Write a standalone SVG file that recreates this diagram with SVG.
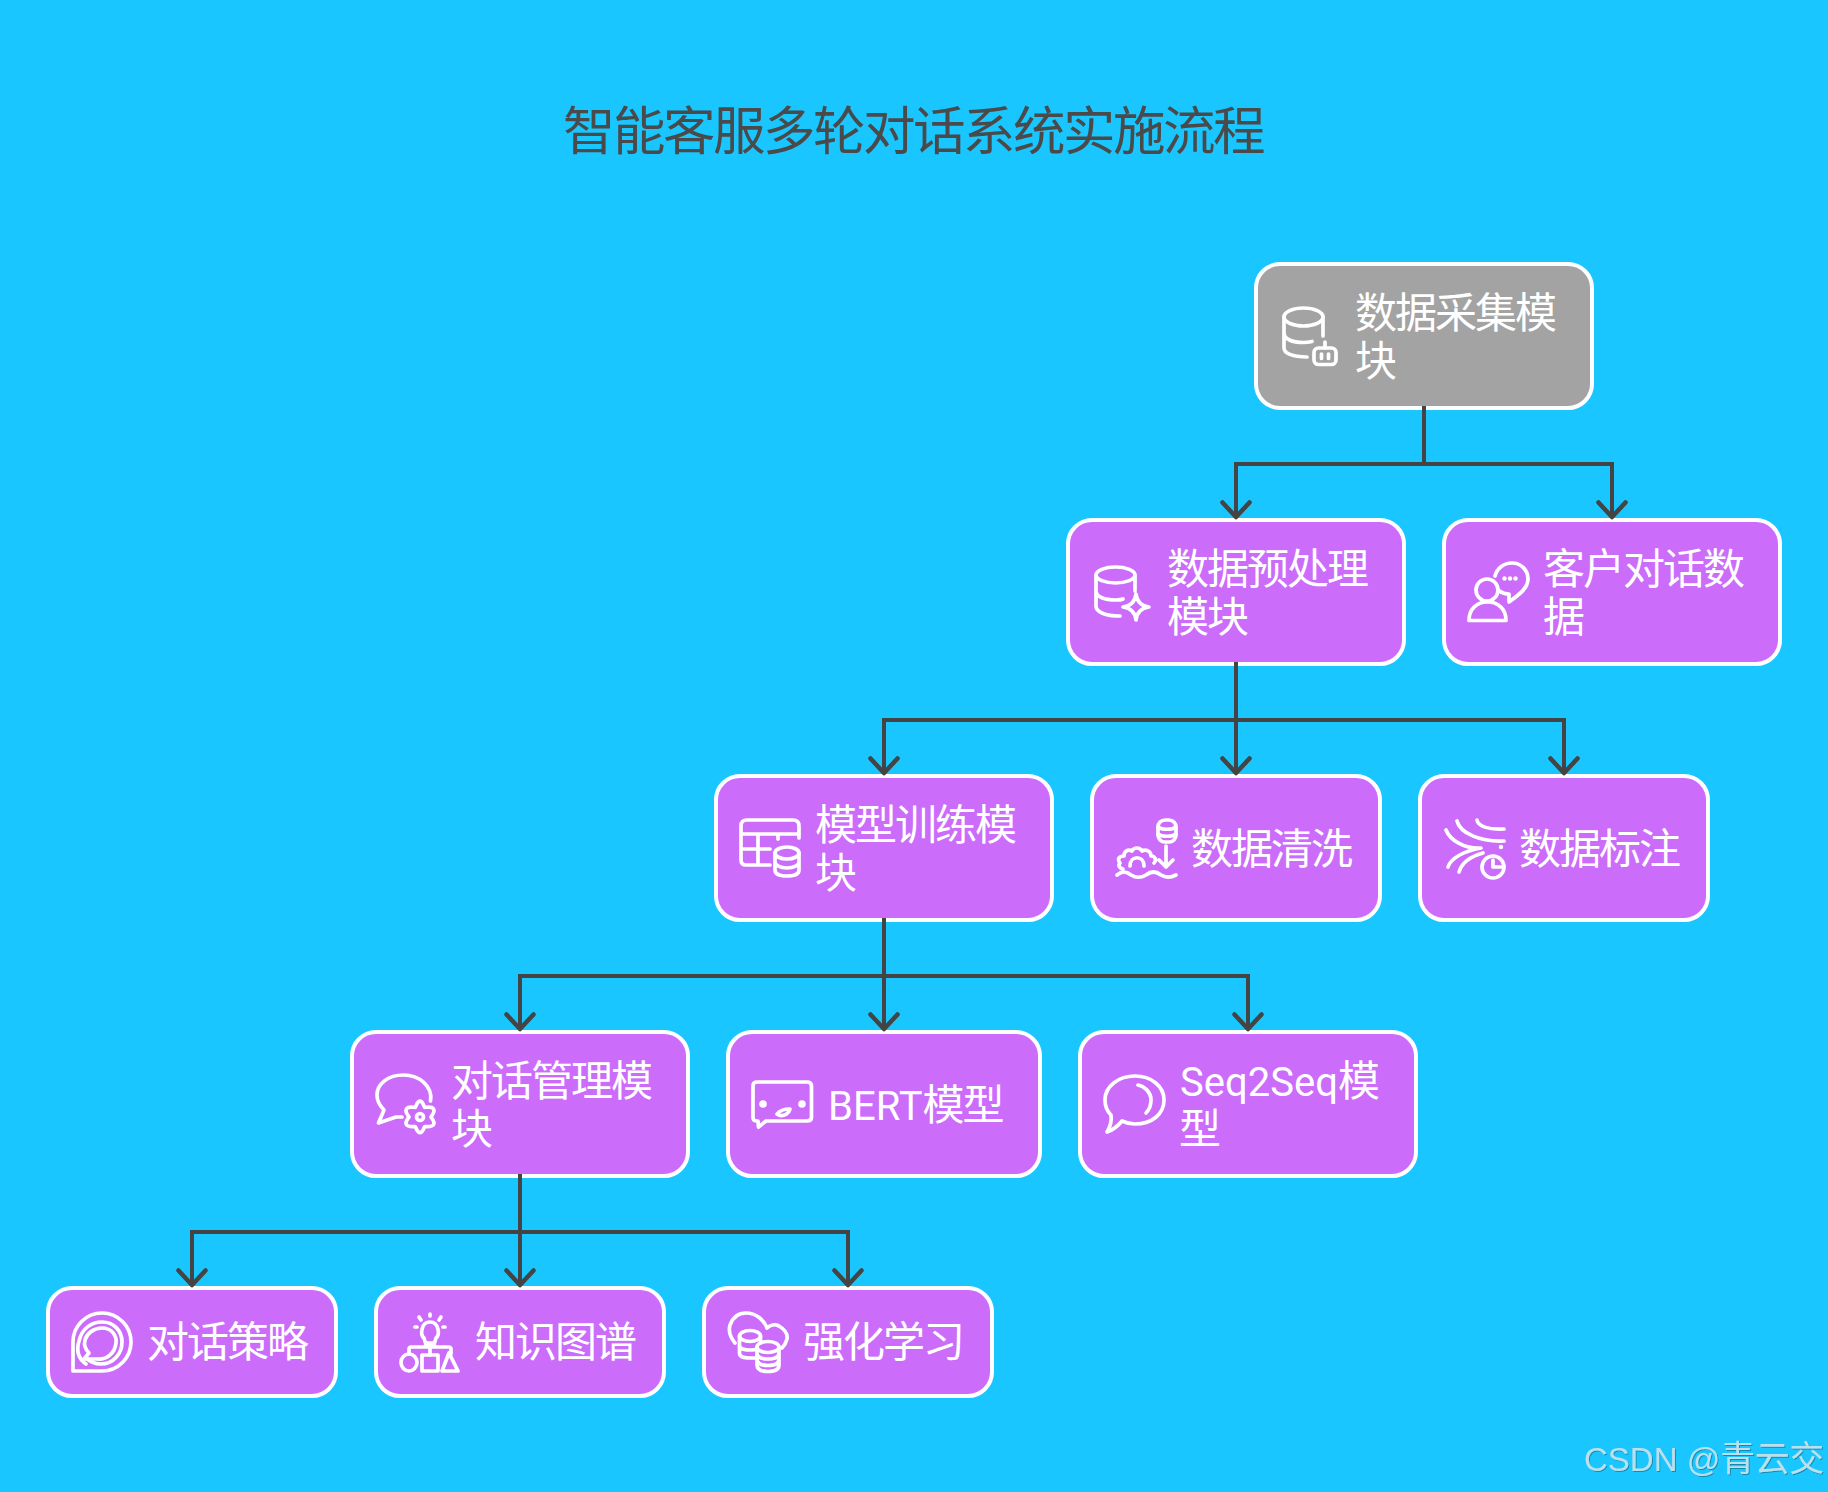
<svg xmlns="http://www.w3.org/2000/svg" width="1828" height="1492" viewBox="0 0 1828 1492">
<style>
text{font-family:Roboto,"Noto Sans CJK SC",sans-serif}
.box{fill:#cc6cfb;stroke:#fff;stroke-width:4}
.grey{fill:#a3a3a3}
.lbl{fill:#fff;font-size:42px;letter-spacing:-2px}
.lat{font-size:40px;letter-spacing:0}
.title{fill:#4a4a4a;font-size:52.500px;letter-spacing:-2.500px}
.ic{fill:none;stroke:#fff;stroke-width:3.700;stroke-linecap:round;stroke-linejoin:round}
.dot{fill:#fff;stroke:none}
.edge{fill:none;stroke:#444;stroke-width:4;marker-end:url(#arr)}
.wm{font-family:"Liberation Sans","Noto Sans CJK SC",sans-serif;font-size:33px;fill:#bcdfec;filter:url(#sh)}
.wmc{font-size:35px;letter-spacing:-0.500px}
</style>
<defs>
<marker id="arr" markerUnits="userSpaceOnUse" viewBox="-20 -20 40 40" refX="0" refY="0" markerWidth="40" markerHeight="40" orient="auto">
<path d="M-14.500 -13.500L0 0L-14.500 13.500" fill="none" stroke="#444" stroke-width="4.500" stroke-linecap="round" stroke-linejoin="round"/>
</marker>
<filter id="sh" x="-5%" y="-20%" width="110%" height="140%"><feDropShadow dx="1" dy="1" stdDeviation="0.5" flood-color="#000" flood-opacity="0.3"/></filter>
</defs>
<rect width="1828" height="1492" fill="#1ac6ff"/>
<text class="title" x="913" y="150" text-anchor="middle">智能客服多轮对话系统实施流程</text>

<g id="n1"><rect class="box grey" x="1256" y="264" width="336" height="144" rx="24"/>
<g class="ic" transform="translate(1281 306)"><ellipse cx="22.500" cy="11" rx="19.500" ry="9"/><path d="M3 11V42C3 47 11 51 26 51M3 27C3 33 11 36.500 22.500 36.500C26 36.500 29 36 31 35.500M42 11V30"/><rect x="33" y="42" width="22" height="16.500" rx="4.500"/><path d="M44 36V42M40.500 48V52.500M47.500 48V52.500"/></g>
<text class="lbl" x="1355" y="328">数据采集模</text><text class="lbl" x="1355" y="376">块</text></g>

<g id="n2"><rect class="box" x="1068" y="520" width="336" height="144" rx="24"/>
<g class="ic" transform="translate(1093 562)"><ellipse cx="22.500" cy="13" rx="19.500" ry="8"/><path d="M3 13V44C3 50 12 54 27 54M3 29C3 35 12 38 22.500 38C25 38 28 38 30 37M42 13V29M43 32C44 40 48 44 56 45C48 46 44 50 43 58C42 50 38 46 30 45C38 44 42 40 43 32Z"/></g>
<text class="lbl" x="1167" y="584">数据预处理</text><text class="lbl" x="1167" y="632">模块</text></g>

<g id="n3"><rect class="box" x="1444" y="520" width="336" height="144" rx="24"/>
<g class="ic" transform="translate(1468 562)"><circle cx="19" cy="28" r="11"/><path d="M1 58.500H38C38 47 30 40 19.500 40C9 40 1 47 1 58.500ZM27 14C29 6 36 1 44 1C53 1 60 8 60 17C60 26 52 32 41 40V32C37.500 32 34 31 31.500 29"/><circle class="dot" cx="36.500" cy="16.500" r="2.200"/><circle class="dot" cx="42" cy="16.500" r="2.200"/><circle class="dot" cx="47.500" cy="16.500" r="2.200"/></g>
<text class="lbl" x="1543" y="584">客户对话数</text><text class="lbl" x="1543" y="632">据</text></g>

<g id="n4"><rect class="box" x="716" y="776" width="336" height="144" rx="24"/>
<g class="ic" transform="translate(740 818)"><path d="M30 47H6C2.500 47 1 45 1 42V8C1 4 3 2 7 2H53C57 2 59 4 59 8V20M1 16H59M18 16V47M1 31H30M38 16V21"/><ellipse cx="47" cy="35" rx="12" ry="6"/><path d="M35 35V52C35 56 40 58 47 58C54 58 59 56 59 52V35M35 44C35 47 40 50 47 50C54 50 59 47 59 44"/></g>
<text class="lbl" x="815" y="840">模型训练模</text><text class="lbl" x="815" y="888">块</text></g>

<g id="n5"><rect class="box" x="1092" y="776" width="288" height="144" rx="24"/>
<g class="ic" transform="translate(1116 818)"><rect x="42" y="2" width="18" height="22" rx="7"/><path d="M42 9C46 12 56 12 60 9M42 16C46 19 56 19 60 16M50 28V49M43 42L50 49L57 42M7 51C3 50 2 47 4 45C1 41 3 38 8 38C8 33 12 31 16 33C18 29 24 29 26 33C30 31 35 33 35 38C39 38 41 42 38 45M14 48C14 37 28 37 28 48M1 57C6 53 10 53 15 57C20 60 25 60 30 57C35 53 40 53 45 57C50 60 54 60 60 57"/></g>
<text class="lbl" x="1191" y="864">数据清洗</text></g>

<g id="n6"><rect class="box" x="1420" y="776" width="288" height="144" rx="24"/>
<g class="ic" transform="translate(1444 818)"><path d="M33 2C34 8 44 12 60 11M13 3C16 15 36 24 60 23M2 12C6 22 20 31 37 30C20 33 7 40 4 49M39 35C28 38 18 44 15 54M49 42V49H57"/><circle cx="49" cy="49" r="11"/><circle class="dot" cx="57" cy="29" r="2.200"/></g>
<text class="lbl" x="1519" y="864">数据标注</text></g>

<g id="n7"><rect class="box" x="352" y="1032" width="336" height="144" rx="24"/>
<g class="ic" transform="translate(376 1074)"><path d="M54.500 27C57 12 43 1 27.500 1C12 1 1 10 1 21C1 27 4 32 8 36L2.500 49L20 43H26"/><path d="M44 27C46 27 46.500 30 47.500 31.500C49.500 31.500 53 30.500 54 33C55 35 53 37 52 38.500C53 40 55 42 54 44C53 46 49.500 45.500 47.500 45.500C46.500 47 46 50 44 50C42 50 41.500 47 40.500 45.500C38.500 45.500 35 46 34 44C33 42 35 40 36 38.500C35 37 33 35 34 33C35 30.500 38.500 31.500 40.500 31.500C41.500 30 42 27 44 27Z" transform="translate(-16.300 -9.800) scale(1.370)" style="stroke-width:2.700"/><circle cx="44" cy="43" r="3.500"/></g>
<text class="lbl" x="451" y="1096">对话管理模</text><text class="lbl" x="451" y="1144">块</text></g>

<g id="n8"><rect class="box" x="728" y="1032" width="312" height="144" rx="24"/>
<g class="ic" transform="translate(752 1074)"><path d="M5 8H55C58 8 59.500 9.500 59.500 12V43C59.500 46 58 47 55 47H14L6.500 53L6 47H5C2 47 1 46 1 43V12C1 9.500 2 8 5 8Z"/><circle class="dot" cx="11" cy="30" r="3.800"/><circle class="dot" cx="50" cy="30" r="3.800"/><path d="M25 40C28 36 34 35 38 35C37 39 33 42 28 41.500Z"/></g>
<text class="lbl" x="828" y="1120"><tspan class="lat">BERT</tspan>模型</text></g>

<g id="n9"><rect class="box" x="1080" y="1032" width="336" height="144" rx="24"/>
<g class="ic" transform="translate(1104 1074)"><path d="M31 2C47 2 60 12 60 26C60 40 48 50 31 50C26 50 22 49 18 47C14 52 9 56 3 58C6 53 8 47 7 41C3 37 1 32 1 26C1 12 15 2 31 2Z"/><path d="M34 11C40 12 47 18 47 26C47 31 45 36 42 39"/></g>
<text class="lbl" x="1180" y="1096"><tspan class="lat">Seq2Seq</tspan>模</text><text class="lbl" x="1179" y="1144">型</text></g>

<g id="n10"><rect class="box" x="48" y="1288" width="288" height="108" rx="24"/>
<g class="ic" transform="translate(72 1312)"><path d="M1 59V30C1 14 14 1 30 1C46 1 59 14 59 30C59 46 46 59 30 59Z"/><path d="M14 52C7 47 4 39 7 29C10 16 20 10 30 10C42 10 50 19 50 30C50 42 41 52 29 52C24 52 18 50 14 46"/><path d="M30 16C40 16 45 24 44 31C43 41 35 48 25 47C21 47 17 47 12 47L17 41C13 37 12 32 13 28C15 21 22 16 30 16Z"/></g>
<text class="lbl" x="147" y="1357">对话策略</text></g>

<g id="n11"><rect class="box" x="376" y="1288" width="288" height="108" rx="24"/>
<g class="ic" transform="translate(400 1312)"><path d="M24 26C20 23 21 10 30 10C39 10 40 23 36 26L34.500 31H25.500ZM30 2V4M19 5L21 8M41 5L39 8M15 15H17M43 15H45M25.500 33H34.500M30 33V43M9 42V37C9 36 10 35 11 35H49C50 35 51 36 51 37V42"/><ellipse cx="9" cy="50.500" rx="8" ry="8.500"/><rect x="22" y="43" width="16" height="16"/><path d="M49 41L58 59H42Z"/></g>
<text class="lbl" x="475" y="1357">知识图谱</text></g>

<g id="n12"><rect class="box" x="704" y="1288" width="288" height="108" rx="24"/>
<g class="ic" transform="translate(728 1312)"><path d="M7 31C2 25 0 20 2 13C5 5 11 1 18 1C28 1 36 8 39 16C42 13 47 12 51 14C56 17 60 21 59 27C58 31 56 34 54 36"/><ellipse cx="22" cy="24" rx="10.500" ry="5.500"/><path d="M11.500 24V41C11.500 44 15 46 22 46H27M11.500 33C11.500 36 15 38 22 38C24 38 26 37.800 28 37.500M32.500 24V29"/><ellipse cx="40" cy="35" rx="11" ry="5.500"/><path d="M29 35V53C29 57 33 59.500 40 59.500C47 59.500 51 57 51 53V35M29 41C29 45 33 47 40 47C47 47 51 45 51 41M29 47C29 51 33 53.500 40 53.500C47 53.500 51 51 51 47"/></g>
<text class="lbl" x="803" y="1357">强化学习</text></g>

<g id="connectors">
<path class="edge" d="M1424 406V464H1236V517"/>
<path class="edge" d="M1424 406V464H1612V517"/>
<path class="edge" d="M1236 662V720H884V773"/>
<path class="edge" d="M1236 662V773"/>
<path class="edge" d="M1236 662V720H1564V773"/>
<path class="edge" d="M884 918V976H520V1029"/>
<path class="edge" d="M884 918V1029"/>
<path class="edge" d="M884 918V976H1248V1029"/>
<path class="edge" d="M520 1174V1232H192V1285"/>
<path class="edge" d="M520 1174V1285"/>
<path class="edge" d="M520 1174V1232H848V1285"/>
</g>
<text class="wm" x="1584" y="1471">CSDN @<tspan class="wmc">青云交</tspan></text>
</svg>
